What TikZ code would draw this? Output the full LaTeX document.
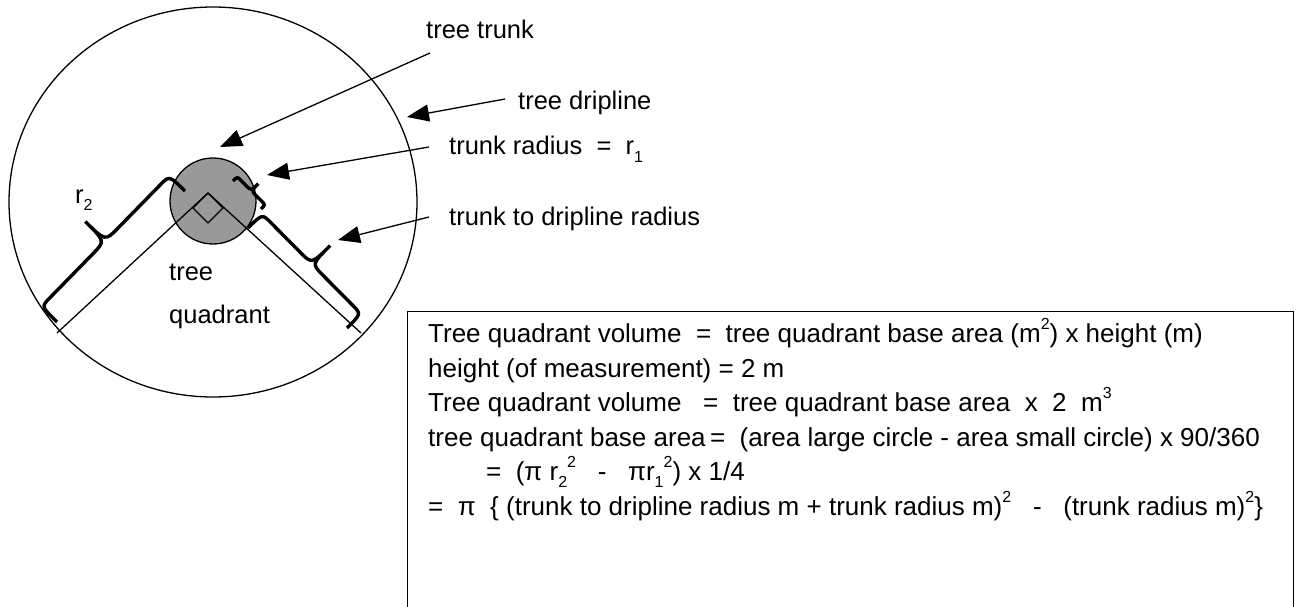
\documentclass[tikz,border=0pt]{standalone}
\usepackage{fontspec}
\setmainfont{Liberation Sans}
\usetikzlibrary{arrows.meta,shapes.geometric,calc}
\definecolor{trunkgray}{RGB}{153,153,153}
\newcommand\upt[1]{\raisebox{0.5em}{\fontsize{16}{16}\selectfont #1}}
\newcommand\dnt[1]{\raisebox{-0.28em}{\fontsize{16}{16}\selectfont #1}}
% #1 start, #2 end, #3 body offset, #4 tip offset, #5 end corner length, #6 tip half width
\newcommand\curlybrace[6]{%
  \path ($(#1)!0.5!(#2)$) coordinate (bm)
        ($(#1)!#5!(#2)$) coordinate (bqa)
        ($(#2)!#5!(#1)$) coordinate (bqd)
        ($(bm)!#6!(#1)$) coordinate (bqb)
        ($(bm)!#6!(#2)$) coordinate (bqc);
  \draw[bracestroke] (#1) .. controls ($(#1)!#3!90:(#2)$) .. ($(bqa)!#3!90:(#2)$)
     -- ($(bqb)!#3!90:(#2)$) .. controls ($(bm)!#3!90:(#2)$) .. ($(bm)!#4!90:(#2)$)
     .. controls ($(bm)!#3!90:(#2)$) .. ($(bqc)!#3!90:(#2)$)
     -- ($(bqd)!#3!-90:(#1)$) .. controls ($(#2)!#3!-90:(#1)$) .. (#2);
}
\begin{document}
\begin{tikzpicture}[x=1pt,y=-1pt,
  thin line/.style={line width=1.3pt},
  pointer/.style={line width=1.3pt,-{Triangle[length=22pt,width=17pt]}},
  bracestroke/.style={line width=3.4pt},
  lbl/.style={anchor=base west,inner sep=0pt,font=\fontsize{25.5}{30}\selectfont},
  boxline/.style={anchor=base west,inner sep=0pt,font=\fontsize{26}{30}\selectfont}]
\useasboundingbox (0,0) rectangle (1296,607);
% shapes
\node (drip) [draw,thin line,ellipse,minimum width=408pt,minimum height=390pt,inner sep=0pt] at (213,202) {};
\node (trunk) [draw,thin line,circle,fill=trunkgray,minimum size=86pt,inner sep=0pt] at (213,201) {};
\coordinate (apex) at (208,193);
\coordinate (lend) at (57,333);
\coordinate (rend) at (361,333);
\draw[thin line] (apex) -- (lend);
\draw[thin line] (apex) -- (rend);
\coordinate (sqL) at (193,208);
\coordinate (sqB) at (208,223);
\coordinate (sqR) at (223,208);
\draw[thin line] (apex) -- (sqL) -- (sqB) -- (sqR) -- cycle;
% braces
\coordinate (b2s) at (57,322);
\coordinate (b2e) at (185,191);
\curlybrace{b2s}{b2e}{22pt}{50pt}{12pt}{18pt}
\coordinate (b1s) at (233,181);
\coordinate (b1e) at (261,209);
\curlybrace{b1s}{b1e}{6pt}{16pt}{5pt}{7pt}
\coordinate (bds) at (248,228);
\coordinate (bde) at (347,328);
\curlybrace{bds}{bde}{20pt}{46pt}{12pt}{16pt}
% labels
\node (lr2) [lbl] at (75,203) {r\dnt{2}};
\node (ltree) [lbl] at (169,280) {tree};
\node (lquad) [lbl] at (169,323) {quadrant};
\node (ltrunk) [lbl] at (426,39) {tree trunk};
\node (ldrip) [lbl] at (518,110) {tree dripline};
\node (lr1) [lbl] at (449,155) {trunk radius\ \ =\ \ r\dnt{1}};
\node (ltd) [lbl] at (449,225) {trunk to dripline radius};
% arrows
\coordinate (a1s) at (430,53);
\coordinate (a1e) at (220,147);
\coordinate (a2s) at (505,99);
\coordinate (a2e) at (407,117);
\coordinate (a3s) at (429,147);
\coordinate (a3e) at (267,175);
\coordinate (a4s) at (429,217);
\coordinate (a4e) at (338,240);
\draw[pointer] (a1s) -- (a1e);
\draw[pointer] (a2s) -- (a2e);
\draw[pointer] (a3s) -- (a3e);
\draw[pointer] (a4s) -- (a4e);
% formula box
\node (box) [draw,line width=1.3pt,anchor=north west,minimum width=886pt,minimum height=330pt,inner sep=0pt] at (407,311) {};
\node (f1) [boxline] at (428,342) {Tree quadrant volume\ \ =\ \ tree quadrant base area (m\upt{2}) x height (m)};
\node (f2) [boxline] at (428,377) {height (of measurement) = 2 m};
\node (f3) [boxline] at (428,411) {Tree quadrant volume\ \ \ =\ \ tree quadrant base area\ \ x\ \ 2\ \ m\upt{3}};
\node (f4) [boxline] at (428,446) {tree quadrant base area\,=\ \ (area large circle - area small circle) x 90/360};
\node (f5) [boxline] at (486,480) {=\ \ (π r\dnt{2}\upt{2}\ \ \ -\ \ \ πr\dnt{1}\upt{2}) x 1/4};
\node (f6) [boxline] at (428,515) {=\ \ π\ \ \{ (trunk to dripline radius m + trunk radius m)\upt{2}\ \ \ -\ \ \ (trunk radius m)\upt{2}\}};
\end{tikzpicture}
\end{document}
